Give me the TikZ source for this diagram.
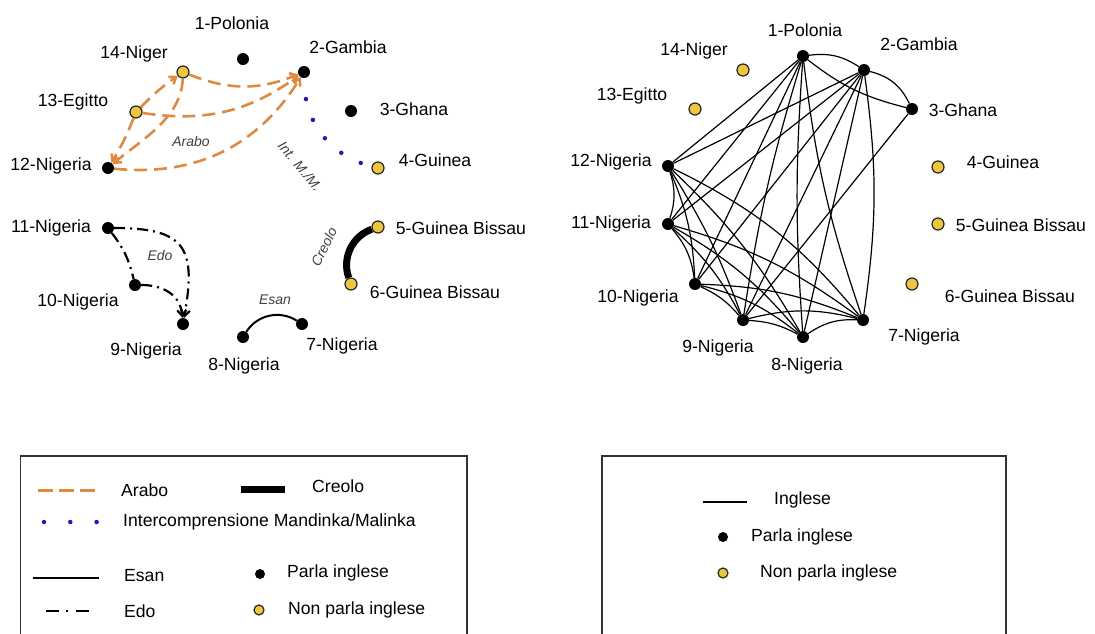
\documentclass[tikz,border=0pt]{standalone}
\usepackage{fontspec}
\setmainfont{Liberation Sans}
\usepackage{tikz}
\usetikzlibrary{arrows.meta}
\definecolor{arabocol}{RGB}{222,138,64}
\definecolor{intcol}{RGB}{28,28,190}
\definecolor{nongold}{RGB}{238,198,62}

\begin{document}
\begin{tikzpicture}[x=1pt,y=-1pt,>={Straight Barb[length=6pt,width=9pt]}]
	\useasboundingbox (0,0) rectangle (1095,633);
	\def \labsize{\fontsize{17.6}{20}\selectfont}
	\def \legtop{456}
	\tikzstyle{e-node}=[circle,fill=black,inner sep=0pt,minimum size=12pt]
	\tikzstyle{n-node}=[circle,draw=black!85,fill=nongold,line width=1.2pt,inner sep=0pt,minimum size=12pt]
	\tikzstyle{cname}=[inner sep=1pt,font=\labsize]
	\tikzstyle{lang}=[inner sep=1pt,font=\fontsize{14}{16}\selectfont\itshape,text=black!75]
	\tikzstyle{arabo}=[draw=arabocol,line width=2.6pt,dash pattern=on 13pt off 7pt,->]
	\tikzstyle{mandinka}=[draw=intcol,line width=4.5pt,line cap=round,dash pattern=on 0pt off 22pt,dash phase=1pt]
	\tikzstyle{edo}=[line width=2.2pt,dash pattern=on 11pt off 5pt on 2pt off 5pt]
	\tikzstyle{esan}=[line width=2pt]
	\tikzstyle{creolo}=[line width=7pt]
	\tikzstyle{inglese}=[line width=1.2pt]
	
	% left graph: nodes
	\node[e-node] 	(p1)	at (243,59)	{};
	\node[e-node] 	(p2)	at (304,72)	{};
	\node[e-node] 	(p3)	at (351,111)	{};
	\node[n-node] 	(p4)	at (378,168)	{};
	\node[n-node] 	(p5)	at (378,227)	{};
	\node[n-node] 	(p6)	at (351,284)	{};
	\node[e-node] 	(p7)	at (302,324)	{};
	\node[e-node] 	(p8)	at (243,337)	{};
	\node[e-node] 	(p9)	at (183,324)	{};
	\node[e-node] 	(p10)	at (135,285)	{};
	\node[e-node] 	(p11)	at (108,228)	{};
	\node[e-node] 	(p12)	at (108,168)	{};
	\node[n-node] 	(p13)	at (136,112)	{};
	\node[n-node] 	(p14)	at (183,72)	{};
	
	% left graph: names
	\node[cname] 	(pl1)	at (232,23)	{1-Polonia};
	\node[cname] 	(pl2)	at (348,47)	{2-Gambia};
	\node[cname] 	(pl3)	at (414,109)	{3-Ghana};
	\node[cname] 	(pl4)	at (435,160)	{4-Guinea};
	\node[cname] 	(pl5)	at (461,228)	{5-Guinea Bissau};
	\node[cname] 	(pl6)	at (435,292)	{6-Guinea Bissau};
	\node[cname] 	(pl7)	at (342,346)	{7-Nigeria};
	\node[cname] 	(pl8)	at (244,366)	{8-Nigeria};
	\node[cname] 	(pl9)	at (146,351)	{9-Nigeria};
	\node[cname] 	(pl10)	at (78,302)	{10-Nigeria};
	\node[cname] 	(pl11)	at (51,228)	{11-Nigeria};
	\node[cname] 	(pl12)	at (51,166)	{12-Nigeria};
	\node[cname] 	(pl13)	at (73,102)	{13-Egitto};
	\node[cname] 	(pl14)	at (134,54)	{14-Niger};
	
	% left graph: languages
	\path[arabo]
		(p14)	edge[bend right=22]	(p2)
		(p13)	edge[bend right=22]	(p2)
		(p12)	edge[bend right=32]	(p2)
		(p13)	edge[bend left=5]	(p14)
		(p14)	edge[out=268,in=40,looseness=0.9]	(p12)
		(p13)	edge[bend left=5]	(p12);
	\path[mandinka]
		(p2)	edge[bend right=38]	(p4);
	\path[edo]
		(p11)	edge[bend left=12]	(p10)
		(p11)	edge[->,out=0,in=80,looseness=1.6]	(p9)
		(p10)	edge[->,out=0,in=95,looseness=1.1]	(p9);
	\path[esan]
		(p8)	edge[bend left=45]	(p7);
	\path[creolo]
		(p5)	edge[bend right=45]	(p6);
	\node[lang] 	(arabo)	at (191,141)	{Arabo};
	\node[lang,rotate=-50] 	(intmm)	at (300,166)	{Int. M./M.};
	\node[lang] 	(edo)	at (160,255)	{Edo};
	\node[lang] 	(esan)	at (275,300)	{Esan};
	\node[lang,rotate=64] 	(creolo)	at (324,247)	{Creolo};
	
	% right graph: nodes
	\node[e-node] 	(q1)	at (803,56)	{};
	\node[e-node] 	(q2)	at (864,70)	{};
	\node[e-node] 	(q3)	at (912,109)	{};
	\node[n-node] 	(q4)	at (938,167)	{};
	\node[n-node] 	(q5)	at (938,224)	{};
	\node[n-node] 	(q6)	at (912,284)	{};
	\node[e-node] 	(q7)	at (863,320)	{};
	\node[e-node] 	(q8)	at (803,337)	{};
	\node[e-node] 	(q9)	at (743,320)	{};
	\node[e-node] 	(q10)	at (695,284)	{};
	\node[e-node] 	(q11)	at (668,224)	{};
	\node[e-node] 	(q12)	at (668,166)	{};
	\node[n-node] 	(q13)	at (695,109)	{};
	\node[n-node] 	(q14)	at (743,70)	{};
	
	% right graph: names
	\node[cname] 	(ql1)	at (805,30)	{1-Polonia};
	\node[cname] 	(ql2)	at (919,44)	{2-Gambia};
	\node[cname] 	(ql3)	at (963,110)	{3-Ghana};
	\node[cname] 	(ql4)	at (1003,162)	{4-Guinea};
	\node[cname] 	(ql5)	at (1021,225)	{5-Guinea Bissau};
	\node[cname] 	(ql6)	at (1010,296)	{6-Guinea Bissau};
	\node[cname] 	(ql7)	at (924,337)	{7-Nigeria};
	\node[cname] 	(ql8)	at (807,366)	{8-Nigeria};
	\node[cname] 	(ql9)	at (718,348)	{9-Nigeria};
	\node[cname] 	(ql10)	at (638,298)	{10-Nigeria};
	\node[cname] 	(ql11)	at (611,224)	{11-Nigeria};
	\node[cname] 	(ql12)	at (611,162)	{12-Nigeria};
	\node[cname] 	(ql13)	at (632,96)	{13-Egitto};
	\node[cname] 	(ql14)	at (694,51)	{14-Niger};
	
	% right graph: english
	\path[inglese]
		(q1)	edge[bend left=20]	(q2)
		(q2)	edge[bend left=25]	(q3)
		(q1)	edge[bend right=12]	(q3)
		(q3)	edge	(q9)
		(q1)	edge[bend right=6]	(q7)
		(q1)	edge[bend right=4]	(q8)
		(q1)	edge[bend right=4]	(q9)
		(q1)	edge	(q10)
		(q1)	edge	(q11)
		(q1)	edge	(q12)
		(q2)	edge[bend left=8]	(q7)
		(q2)	edge	(q8)
		(q2)	edge	(q9)
		(q2)	edge	(q10)
		(q2)	edge	(q11)
		(q2)	edge	(q12)
		(q7)	edge[bend right=18]	(q8)
		(q7)	edge[bend right=14]	(q9)
		(q7)	edge[bend right=10]	(q10)
		(q7)	edge[bend right=10]	(q11)
		(q7)	edge[bend right=12]	(q12)
		(q8)	edge[bend right=12]	(q9)
		(q8)	edge[bend right=12]	(q10)
		(q8)	edge[bend right=10]	(q11)
		(q8)	edge[bend right=8]	(q12)
		(q9)	edge[bend right=12]	(q10)
		(q9)	edge[bend right=10]	(q11)
		(q9)	edge[bend right=6]	(q12)
		(q10)	edge[bend right=16]	(q11)
		(q10)	edge[bend right=10]	(q12)
		(q11)	edge[bend right=18]	(q12);
	
	% left legend
	\draw[line width=1.2pt,black!80] (20.5,640) -- (20.5,\legtop) -- (467,\legtop) -- (467,640);
	\draw[draw=arabocol,line width=3pt,dash pattern=on 15pt off 6pt] (38,490) -- (99,490);
	\node[cname,anchor=west] 	(ka)	at (120,490)	{Arabo};
	\draw[line width=7pt] (241,489) -- (285,489);
	\node[cname,anchor=west] 	(kc)	at (311,486)	{Creolo};
	\draw[mandinka,dash phase=0pt,dash pattern=on 0pt off 26.3pt] (44,522) -- (97,522);
	\node[cname,anchor=west] 	(km)	at (122,522)	{Intercomprensione Mandinka/Malinka};
	\draw[esan] (33,578) -- (99,578);
	\node[cname,anchor=west] 	(ke)	at (123,576)	{Esan};
	\node[e-node,minimum size=10pt] 	(kp)	at (260,574)	{};
	\node[cname,anchor=west] 	(kpt)	at (286,573)	{Parla inglese};
	\draw[line width=2.2pt,dash pattern=on 13pt off 7pt on 2pt off 8pt] (46,611) -- (91,611);
	\node[cname,anchor=west] 	(kd)	at (123,611)	{Edo};
	\node[n-node,minimum size=10pt] 	(kn)	at (259,610)	{};
	\node[cname,anchor=west] 	(knt)	at (287,610)	{Non parla inglese};
	
	% right legend
	\draw[line width=1.2pt,black!80] (602,640) -- (602,\legtop) -- (1006,\legtop) -- (1006,640);
	\draw[esan] (703,502) -- (747,502);
	\node[cname,anchor=west] 	(ki)	at (773,500)	{Inglese};
	\node[e-node,minimum size=10pt] 	(kp2)	at (723,537)	{};
	\node[cname,anchor=west] 	(kpt2)	at (750,537)	{Parla inglese};
	\node[n-node,minimum size=10pt] 	(kn2)	at (723,573)	{};
	\node[cname,anchor=west] 	(knt2)	at (759,573)	{Non parla inglese};
\end{tikzpicture}
\end{document}
